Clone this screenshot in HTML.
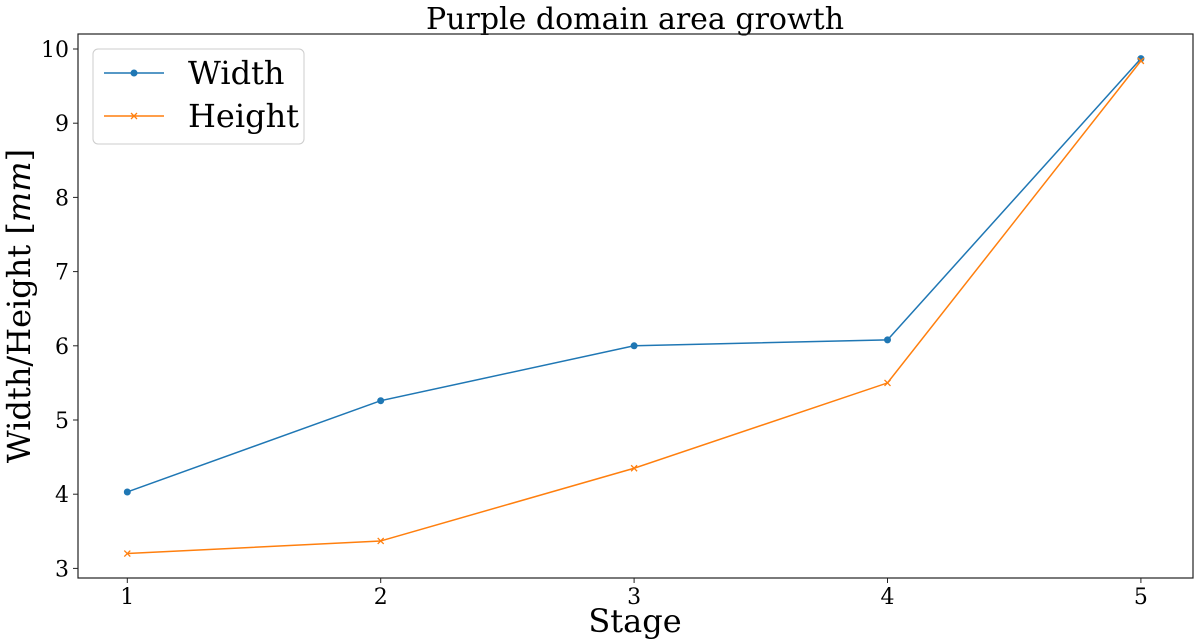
<!DOCTYPE html>
<html><head><meta charset="utf-8"><style>
body{margin:0;background:#fff;}
svg{display:block;font-family:"DejaVu Serif","Liberation Serif",serif;}
</style></head><body>
<svg id="chart" width="1203" height="643" viewBox="0 0 1203 643">
<text x="635" y="29" font-size="30" text-anchor="middle">Purple domain area growth</text>
<g id="axes"></g>
<g id="series"></g>
<rect x="78" y="34" width="1115" height="544" fill="none" stroke="#222" stroke-width="1.2"/>
<text x="635" y="632" font-size="32" text-anchor="middle">Stage</text>
<text transform="translate(30,306) rotate(-90)" font-size="32" text-anchor="middle">Width/Height [<tspan font-style="italic">mm</tspan>]</text>
<g>
<rect x="93" y="49" width="211" height="95" rx="5" fill="#fff" stroke="#ccc"/>
<g>
<line x1="104" y1="73" x2="164" y2="73" stroke="#1f77b4" stroke-width="1.5"/>
<circle cx="134" cy="73" r="3.5" fill="#1f77b4"/>
<text x="188" y="84" font-size="32">Width</text></g>
<g>
<line x1="104" y1="116" x2="164" y2="116" stroke="#ff7f0e" stroke-width="1.5"/>
<path d="M131,113 l6,6 M137,113 l-6,6" stroke="#ff7f0e" stroke-width="1.3"/>
<text x="188" y="127" font-size="32">Height</text></g>
</g>
</svg>
<script>
const stages=[1,2,3,4,5];
const widthVals=[4.03,5.26,6.0,6.08,9.87];
const heightVals=[3.2,3.37,4.35,5.5,9.84];
const yTicks=[3,4,5,6,7,8,9,10];
const xTicks=[1,2,3,4,5];
const NS="http://www.w3.org/2000/svg";
const xs=v=>127.3+(v-1)*253.4;
const ys=v=>568.4-(v-3)*74.2;
function mk(t,a,p){const e=document.createElementNS(NS,t);for(const k in a)e.setAttribute(k,a[k]);p.appendChild(e);return e;}
const ax=document.getElementById('axes');
xTicks.forEach(t=>{
 const l=mk('line',{x1:xs(t),x2:xs(t),y1:578,y2:583,stroke:'#222'},ax);
 
 
 const tx=mk('text',{x:xs(t),y:604,'font-size':22,'text-anchor':'middle'},ax);tx.textContent=t;
 
 
});
yTicks.forEach(t=>{
 const l=mk('line',{x1:73,x2:78,y1:ys(t),y2:ys(t),stroke:'#222'},ax);
 
 
 const tx=mk('text',{x:69,y:ys(t)+8,'font-size':22,'text-anchor':'end'},ax);tx.textContent=t;
 
 
});
const sg=document.getElementById('series');
function series(vals,color,name,marker){
 const pl=mk('polyline',{points:vals.map((v,i)=>xs(stages[i])+','+ys(v)).join(' '),fill:'none',stroke:color,'stroke-width':1.5},sg);
 
 
 vals.forEach((v,i)=>{
  const x=xs(stages[i]),y=ys(v);let m;
  if(marker==='o'){m=mk('circle',{cx:x,cy:y,r:3.5,fill:color},sg);}
  else{m=mk('path',{d:`M${x-3},${y-3} l6,6 M${x+3},${y-3} l-6,6`,stroke:color,'stroke-width':1.3},sg);}
  
  
 });
}
series(widthVals,'#1f77b4','width','o');
series(heightVals,'#ff7f0e','height','x');
</script>
</body></html>
